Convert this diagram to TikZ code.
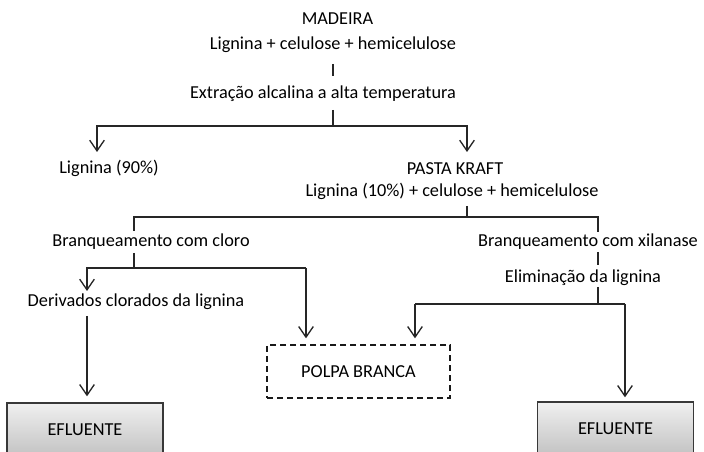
\documentclass[tikz,border=0pt]{standalone}
\usepackage{fontspec}
\setmainfont{Carlito}
\usetikzlibrary{arrows.meta}
\begin{document}
\begin{tikzpicture}[x=0.75pt,y=-0.75pt,
  txt/.style={anchor=base,inner sep=0pt,font=\fontsize{13.7}{16}\selectfont},
  ln/.style={line width=1pt,draw=black!85},
  arr/.style={ln,-{Straight Barb[length=8pt,width=11pt]}},
  efl/.style={draw=black!78,line width=1pt,top color=black!6,bottom color=black!24,
    minimum width=117pt,minimum height=40.5pt,inner sep=0pt,
    font=\fontsize{13.7}{16}\selectfont},
  polpabox/.style={draw=black!90,line width=1pt,dash pattern=on 4.5pt off 3pt,
    minimum width=137.25pt,minimum height=39.75pt,inner sep=0pt,
    font=\fontsize{13.7}{16}\selectfont}
]
\useasboundingbox (0,0) rectangle (704,452);
\clip (0,0) rectangle (704,452);

% top block
\node[txt] (madeira) at (337.5,25) {MADEIRA};
\node[txt] (comp1) at (333,50) {Lignina + celulose + hemicelulose};
\coordinate (bar1a) at (333,64);
\coordinate (bar1b) at (333,76);
\draw[ln] (bar1a) -- (bar1b);
\node[txt] (extr) at (323,99) {Extração alcalina a alta temperatura};

% first split
\coordinate (j1) at (333,110);
\coordinate (j1b) at (333,126);
\coordinate (t90) at (97,152);
\coordinate (tkr) at (467,152);
\draw[ln] (j1) -- (j1b);
\draw[arr] (j1b) -| (t90);
\draw[arr] (j1b) -| (tkr);
\node[txt] (lig90) at (109,174) {Lignina (90\%)};
\node[txt] (kraft) at (455,175) {PASTA KRAFT};
\node[txt] (comp2) at (452,197) {Lignina (10\%) + celulose + hemicelulose};

% second split
\coordinate (j2) at (467,206);
\coordinate (j2b) at (467,217);
\coordinate (e2l) at (134,231);
\coordinate (e2r) at (598,232);
\draw[ln] (j2) -- (j2b);
\draw[ln] (j2b) -| (e2l);
\draw[ln] (j2b) -| (e2r);
\node[txt] (bcl) at (151,247) {Branqueamento com cloro};
\node[txt] (bxl) at (588,247) {Branqueamento com xilanase};

% boxes
\node[polpabox] (polpa) at (358.5,371.5) {POLPA BRANCA};
\node[efl] (eflL) at (85,430) {EFLUENTE};
\node[efl] (eflR) at (615.5,429) {EFLUENTE};

% left branch
\coordinate (j3) at (134,253);
\coordinate (j3b) at (134,268);
\coordinate (tder) at (87,291);
\coordinate (pl) at (306,268);
\draw[ln] (j3) -- (j3b);
\draw[arr] (j3b) -| (tder);
\draw[ln] (j3b) -- (pl);
\draw[arr,shorten >=4.5pt] (pl) -- (pl |- polpa.north);
\node[txt] (deriv) at (136,307) {Derivados clorados da lignina};
\coordinate (d1) at (87,316);
\draw[arr,shorten >=4.5pt] (d1) -- (d1 |- eflL.north);

% right branch
\coordinate (bar2a) at (598,252);
\coordinate (bar2b) at (598,265);
\draw[ln] (bar2a) -- (bar2b);
\node[txt] (elim) at (583,283) {Eliminação da lignina};
\coordinate (j4) at (598,287);
\coordinate (j4b) at (598,304);
\coordinate (pr) at (415,304);
\coordinate (er) at (625,304);
\draw[ln] (j4) -- (j4b);
\draw[ln] (pr) -- (er);
\draw[arr,shorten >=4.5pt] (pr) -- (pr |- polpa.north);
\draw[arr,shorten >=3pt] (er) -- (er |- eflR.north);
\end{tikzpicture}
\end{document}
